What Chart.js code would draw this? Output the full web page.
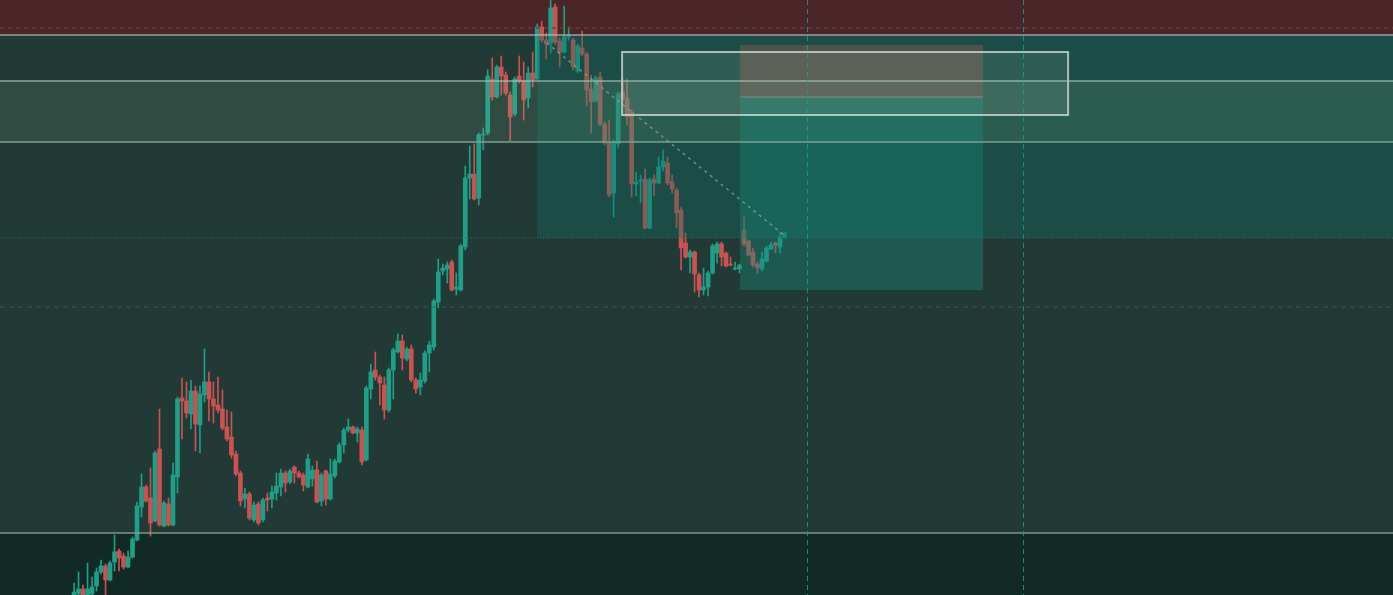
<!DOCTYPE html>
<html>
<head>
<meta charset="utf-8">
<script src="https://cdn.jsdelivr.net/npm/chart.js@4.4.0/dist/chart.umd.min.js"></script>
<style>
    html, body { margin: 0; padding: 0; background: #223a35; overflow: hidden; }
    #wrap { width: 1393px; height: 595px; position: relative; }
</style>
</head>
<body>
<div id="wrap"><canvas id="chart"></canvas></div>
<script>
// Świece: open / high / low / close
const opens = [
    4, 6, 11, 5, 6, 14, 28, 34, 20, 38,
    49, 44, 33, 43, 60, 93, 113, 102, 79, 151,
    74, 96, 75, 123, 202, 199, 186, 209, 175, 205,
    218, 201, 195, 191, 173, 163, 146, 127, 101, 106,
    80, 96, 80, 102, 101, 107, 113, 127, 118, 133,
    127, 125, 113, 121, 130, 99, 129, 101, 124, 138,
    155, 170, 173, 167, 170, 140, 211, 230, 223, 215,
    190, 230, 248, 259, 241, 251, 220, 213, 219, 247,
    253, 298, 329, 331, 338, 311, 310, 353, 422, 426,
    402, 465, 467, 521, 503, 533, 525, 505, 486, 524,
    519, 502, 527, 521, 573, 560, 557, 593, 559, 548,
    563, 560, 529, 552, 546, 511, 499, 523, 476, 458,
    407, 456, 508, 502, 488, 416, 419, 421, 372, 421,
    417, 433, 437, 418, 410, 390, 357, 343, 348, 325,
    310, 313, 327, 347, 356, 347, 336, 331, 331, 370,
    359, 348, 336, 331, 339, 351, 357, 353, 363
];
const highs = [
    17, 28, 15, 37, 23, 32, 40, 36, 39, 65,
    51, 47, 49, 63, 98, 126, 115, 132, 149, 191,
    99, 102, 137, 203, 222, 218, 220, 214, 214, 251,
    228, 218, 223, 210, 190, 188, 149, 129, 112, 108,
    98, 98, 102, 107, 114, 127, 131, 129, 131, 134,
    129, 127, 146, 134, 139, 127, 130, 141, 141, 157,
    172, 181, 174, 173, 173, 214, 236, 248, 225, 223,
    232, 252, 266, 265, 253, 255, 222, 227, 249, 259,
    301, 341, 336, 338, 340, 327, 356, 434, 454, 456,
    467, 472, 530, 542, 535, 544, 528, 508, 523, 544,
    538, 533, 548, 576, 579, 567, 600, 596, 562, 594,
    573, 562, 556, 569, 548, 525, 524, 528, 478, 480,
    460, 508, 521, 521, 490, 428, 425, 431, 422, 425,
    443, 450, 443, 425, 412, 393, 367, 350, 349, 327,
    332, 329, 356, 358, 358, 348, 343, 338, 336, 383,
    360, 352, 338, 348, 354, 358, 358, 368, 368
];
const lows = [
    2, 3, 2, 2, 4, 9, 26, 5, 19, 29,
    29, 31, 32, 42, 59, 83, 98, 64, 78, 74,
    73, 74, 74, 107, 161, 182, 171, 149, 147, 198,
    179, 177, 187, 170, 159, 142, 124, 94, 92, 80,
    78, 75, 78, 89, 92, 100, 104, 108, 116, 117,
    122, 109, 112, 114, 97, 94, 95, 100, 122, 137,
    147, 168, 166, 158, 135, 139, 201, 220, 195, 181,
    188, 201, 247, 230, 239, 218, 207, 205, 217, 228,
    250, 292, 325, 317, 309, 305, 309, 350, 401, 400,
    395, 450, 465, 500, 502, 505, 505, 459, 484, 517,
    480, 492, 513, 520, 558, 541, 547, 556, 533, 547,
    560, 530, 527, 544, 494, 467, 498, 474, 455, 403,
    383, 452, 499, 475, 403, 404, 397, 371, 371, 404,
    416, 429, 415, 407, 372, 330, 342, 327, 308, 303,
    305, 304, 326, 337, 334, 333, 334, 330, 327, 354,
    344, 333, 327, 329, 338, 350, 347, 347, 362
];
const closes = [
    8, 11, 5, 11, 13, 28, 34, 20, 37, 48,
    42, 33, 43, 61, 94, 113, 99, 77, 147, 75,
    97, 75, 125, 201, 199, 187, 209, 176, 206, 218,
    201, 194, 190, 172, 161, 145, 126, 99, 106, 82,
    95, 77, 100, 100, 108, 114, 127, 117, 129, 127,
    123, 115, 141, 130, 98, 125, 101, 126, 139, 155,
    170, 173, 167, 171, 138, 212, 228, 223, 217, 190,
    230, 250, 259, 242, 251, 220, 211, 220, 247, 255,
    299, 328, 332, 335, 310, 313, 354, 422, 426, 401,
    465, 466, 524, 503, 533, 524, 507, 483, 521, 519,
    500, 527, 520, 573, 560, 556, 592, 558, 548, 563,
    564, 533, 554, 546, 510, 498, 522, 476, 457, 405,
    458, 506, 501, 483, 416, 418, 420, 372, 420, 417,
    433, 439, 417, 411, 387, 352, 343, 348, 326, 310,
    313, 327, 354, 356, 343, 334, 335, 332, 335, 356,
    345, 335, 332, 341, 352, 355, 355, 363, 367
];

// Poziomy cenowe i strefy (cena / numer świecy)
const topBand = 565;
const redDash = 572;
const zoneHigh = 519;
const zoneLow = 458;
const entryLine = 362;
const midDash = 293;
const floorLine = 67;
const tealBoxStart = 102.97;
const rectBox = [121.88, 221.07, 485, 548];
const posBox = [148.12, 202.17, 310, 503, 555];
const vLines = [163.02, 211.07];
const trendLine = [105.13, 557, 158.13, 364];

const UP = '#1d9f88';
const DOWN = '#cc5252';

const candleColor = ctx => closes[ctx.dataIndex] >= opens[ctx.dataIndex] ? UP : DOWN;

// Rysowanie stref i linii
const overlays = {
    id: 'overlays',
    beforeDatasetsDraw(chart) {
        const { ctx, chartArea: a, scales: { y } } = chart;
        ctx.save();
        ctx.fillStyle = '#4a2628';
        ctx.fillRect(a.left, a.top, a.width, y.getPixelForValue(topBand) - a.top);
        ctx.fillStyle = '#122a26';
        const yf = y.getPixelForValue(floorLine);
        ctx.fillRect(a.left, yf, a.width, a.bottom - yf);
        ctx.restore();
    },
    afterDatasetsDraw(chart) {
        const { ctx, chartArea: a, scales: { x, y } } = chart;
        const px = v => x.getPixelForValue(v);
        const py = v => y.getPixelForValue(v);
        const box = (x0, x1, p0, p1, fill) => {
            ctx.fillStyle = fill;
            ctx.fillRect(x0, py(p1), x1 - x0, py(p0) - py(p1));
        };
        const hline = (p, color, width, dash) => {
            ctx.beginPath();
            ctx.setLineDash(dash || []);
            ctx.strokeStyle = color;
            ctx.lineWidth = width;
            ctx.moveTo(a.left, py(p));
            ctx.lineTo(a.right, py(p));
            ctx.stroke();
        };

        ctx.save();
        // strefa zielona po prawej
        box(px(tealBoxStart), a.right, entryLine, topBand, 'rgba(14, 112, 99, 0.35)');
        // strefa oporu
        box(a.left, a.right, zoneLow, zoneHigh, 'rgba(134, 178, 140, 0.15)');
        // pozycja long
        box(px(posBox[0]), px(posBox[1]), posBox[2], posBox[3], 'rgba(22, 138, 120, 0.4)');
        box(px(posBox[0]), px(posBox[1]), posBox[3], posBox[4], 'rgba(108, 86, 76, 0.65)');
        ctx.beginPath();
        ctx.strokeStyle = 'rgba(160, 160, 150, 0.6)';
        ctx.lineWidth = 1;
        ctx.moveTo(px(posBox[0]), py(posBox[3]));
        ctx.lineTo(px(posBox[1]), py(posBox[3]));
        ctx.stroke();
        // prostokąt
        const rx0 = px(rectBox[0]), rx1 = px(rectBox[1]);
        box(rx0, rx1, rectBox[2], rectBox[3], 'rgba(220, 235, 225, 0.1)');
        ctx.strokeStyle = 'rgba(210, 215, 212, 0.8)';
        ctx.lineWidth = 2;
        ctx.strokeRect(rx0, py(rectBox[3]), rx1 - rx0, py(rectBox[2]) - py(rectBox[3]));

        // linie poziome
        hline(redDash, 'rgba(120, 58, 58, 0.9)', 1.5, [4, 4]);
        hline(topBand, 'rgba(190, 195, 192, 0.75)', 1.5);
        hline(zoneHigh, 'rgba(170, 200, 190, 0.75)', 1.5);
        hline(zoneLow, 'rgba(120, 160, 150, 0.75)', 2);
        hline(entryLine, 'rgba(40, 120, 100, 0.9)', 1, [1, 2]);
        hline(midDash, 'rgba(60, 90, 82, 0.9)', 1, [5, 4]);
        hline(floorLine, 'rgba(140, 165, 158, 0.85)', 1.5);

        // linie pionowe
        vLines.forEach(v => {
            ctx.beginPath();
            ctx.setLineDash([5, 4]);
            ctx.strokeStyle = 'rgba(16, 160, 138, 0.85)';
            ctx.lineWidth = 1;
            ctx.moveTo(Math.round(px(v)) + 0.5, a.top);
            ctx.lineTo(Math.round(px(v)) + 0.5, a.bottom);
            ctx.stroke();
        });

        // linia trendu
        ctx.beginPath();
        ctx.setLineDash([3, 4]);
        ctx.strokeStyle = 'rgba(150, 165, 160, 0.7)';
        ctx.lineWidth = 1.5;
        ctx.moveTo(px(trendLine[0]), py(trendLine[1]));
        ctx.lineTo(px(trendLine[2]), py(trendLine[3]));
        ctx.stroke();
        ctx.restore();
    }
};

new Chart(document.getElementById('chart'), {
    type: 'bar',
    data: {
        datasets: [{
            label: 'Korpus',
            data: opens.map((o, i) => ({ x: i, y: [o, closes[i]] })),
            backgroundColor: candleColor,
            barThickness: 4,
            borderWidth: 0,
            borderSkipped: false,
            grouped: false,
            minBarLength: 1
        }, {
            label: 'Knot',
            data: lows.map((l, i) => ({ x: i, y: [l, highs[i]] })),
            backgroundColor: candleColor,
            barThickness: 1,
            borderWidth: 0,
            borderSkipped: false,
            grouped: false
        }]
    },
    options: {
        responsive: true,
        maintainAspectRatio: false,
        animation: false,
        layout: { padding: 0 },
        plugins: {
            legend: { display: false },
            tooltip: { enabled: false }
        },
        scales: {
            x: {
                type: 'linear',
                min: -16.47,
                max: 293.33,
                offset: false,
                display: false
            },
            y: {
                min: 5,
                max: 600,
                display: false
            }
        }
    },
    plugins: [overlays]
});
</script>
</body>
</html>
